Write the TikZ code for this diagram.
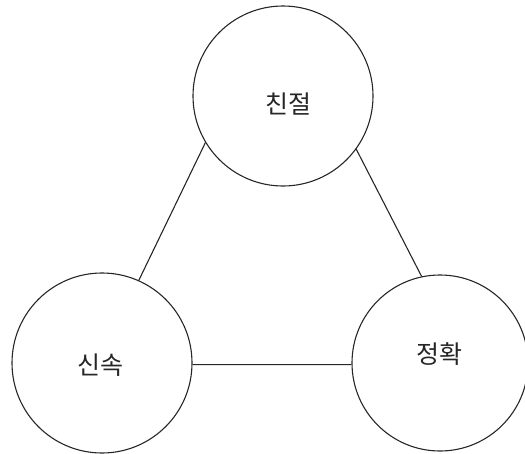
\documentclass[tikz,border=0pt]{standalone}
\usepackage{fontspec}
\newfontfamily\kr{Noto Sans CJK KR}
\begin{document}
\begin{tikzpicture}[x=1pt,y=-1pt,
  ring/.style={draw=black!85,line width=1.1pt,circle,minimum size=#1,inner sep=0pt},
  lbl/.style={font=\kr\fontsize{25}{25}\selectfont,text=black!85,inner sep=0pt},
  link/.style={draw=black!85,line width=1.1pt}]
\useasboundingbox (0,0) rectangle (525,453);
\node[ring=180pt] (top) at (283,96) {};
\node[ring=180pt] (left) at (102,363) {};
\node[ring=176pt] (right) at (440,363) {};
\node[lbl] (t1) at (288,104) {친절};
\node[lbl] (t2) at (100,365) {신속};
\node[lbl] (t3) at (439,354) {정확};
\draw[link] (top.211) -- (left.66);
\draw[link] (top.-36) -- (right.102);
\draw[link] (left.-1) -- (right.181);
\end{tikzpicture}
\end{document}
